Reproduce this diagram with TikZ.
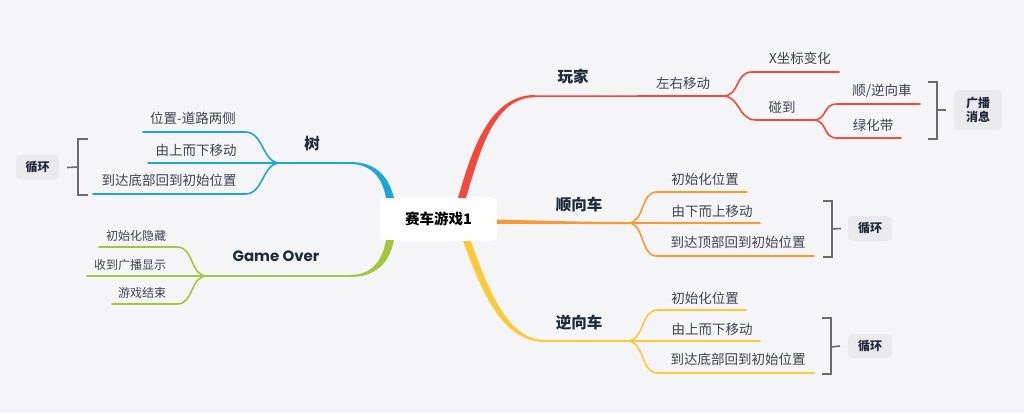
\documentclass[tikz,border=0pt]{standalone}
\usepackage{fontspec}
\setmainfont{Noto Sans CJK SC}
\newfontfamily\pop{Poppins}
\definecolor{bg}{HTML}{F5F5F8}
\definecolor{cred}{HTML}{F04A3E}
\definecolor{corange}{HTML}{F79A35}
\definecolor{cyellow}{HTML}{FCC93C}
\definecolor{cblue}{HTML}{1CA7D6}
\definecolor{cgreen}{HTML}{A4C63E}
\definecolor{maintext}{HTML}{1F2A3A}
\definecolor{subtext}{HTML}{3D4451}
\definecolor{callfill}{HTML}{EAEAED}
\definecolor{brk}{HTML}{6B6B6E}
\begin{document}
\begin{tikzpicture}[x=1pt,y=-1pt,
  central/.style={fill=white,rounded corners=6pt,minimum width=117pt,minimum height=44pt,inner sep=0pt,text=black,font=\fontsize{14.5}{17}\selectfont\bfseries},
  mainlbl/.style={inner sep=0pt,text=maintext,font=\fontsize{15.5}{18}\selectfont\bfseries},
  sublbl/.style={inner sep=0pt,text=subtext,font=\fontsize{13.5}{16}\selectfont},
  smalllbl/.style={inner sep=0pt,text=subtext,font=\fontsize{12}{14}\selectfont},
  callout/.style={fill=callfill,rounded corners=5pt,inner sep=0pt,text=maintext,font=\fontsize{12}{14}\selectfont\bfseries,align=center},
  subline/.style={line width=1.6pt,line cap=round},
  bracketline/.style={draw=brk,line width=1.6pt}
]
\fill[bg] (0,0) rectangle (1024,413);
\useasboundingbox (0,0) rectangle (1024,413);

% ---------- central
\node[central] (c) at (438.5,219) {赛车游戏1};

% ---------- main branches (tapered)
% red: 玩家
\fill[cred] (458,198) .. controls (472,149) and (490,95) .. (535,95) -- (535,97.2)
  .. controls (494,97.2) and (480,151) .. (466,198) -- cycle;
\coordinate (rf) at (723,96);
\draw[cred,subline] (535,96.1) -- (rf);
% orange: 顺向车
\fill[corange] (497,219.5) .. controls (540,220.5) and (580,222) .. (628,222) -- (628,224)
  .. controls (580,224) and (540,224) .. (497,223.8) -- cycle;
\coordinate (of) at (628,223);
% yellow: 逆向车
\fill[cyellow] (463,241) .. controls (481,289) and (501,342) .. (545,342) -- (545,340)
  .. controls (509,340) and (489,293) .. (471,241) -- cycle;
\coordinate (yf) at (627,341);
\draw[cyellow,subline] (545,341) -- (yf);
% blue: 树
\fill[cblue] (394,198) .. controls (388,174) and (374,162) .. (350,162) -- (350,164)
  .. controls (370,164) and (382,176) .. (386,198) -- cycle;
\coordinate (bf) at (280,163);
\draw[cblue,subline] (350,163) -- (bf);
% green: Game Over
\fill[cgreen] (394,240) .. controls (389,265) and (374,277) .. (350,277) -- (350,275)
  .. controls (370,275) and (382,263) .. (386,240) -- cycle;
\coordinate (gf) at (207,276);
\draw[cgreen,subline] (350,276) -- (gf);

% ---------- main labels
\node[mainlbl] (p) at (573,77) {玩家};
\node[mainlbl] (s) at (579,205) {顺向车};
\node[mainlbl] (n) at (579,323) {逆向车};
\node[mainlbl] (t) at (312,144) {树};
\node[mainlbl,font=\pop\fontsize{15}{18}\selectfont\bfseries] (g) at (276,256) {Game Over};

% ---------- red sub branches
\node[sublbl] (p1) at (683,83) {左右移动};
\node[sublbl] (p11) at (800,58) {X坐标变化};
\node[sublbl] (p12) at (782,107) {碰到};
\node[sublbl] (p121) at (882,91) {顺/逆向車};
\node[sublbl] (p122) at (873,125) {绿化带};
\coordinate (p11a) at (752,72); \coordinate (p11b) at (839,72);
\coordinate (p12a) at (756,120); \coordinate (p12b) at (813,120);
\coordinate (p121a) at (837,104); \coordinate (p121b) at (920,104);
\coordinate (p122a) at (837,138); \coordinate (p122b) at (901,138);
\draw[cred,subline] (rf) .. controls (740,96) and (735,72) .. (p11a) -- (p11b);
\draw[cred,subline] (rf) .. controls (740,96) and (738,120) .. (p12a) -- (p12b);
\draw[cred,subline] (p12b) .. controls (828,120) and (822,104) .. (p121a) -- (p121b);
\draw[cred,subline] (p12b) .. controls (828,120) and (822,138) .. (p122a) -- (p122b);
% bracket + callout
\node[callout,minimum width=48pt,minimum height=40pt] (cb1) at (978,110) {广播\\消息};
\draw[bracketline] (928,82) -- (937,82) -- (937,139) -- (928,139);
\draw[bracketline] (937,110) -- (cb1.west -| 946,110);

% ---------- orange sub branches
\node[sublbl] (s1) at (705,179) {初始化位置};
\node[sublbl] (s2) at (712,211) {由下而上移动};
\node[sublbl] (s3) at (738,242) {到达顶部回到初始位置};
\draw[corange,subline] (of) .. controls (645,223) and (640,192) .. (657,192) -- (747,192);
\draw[corange,subline] (of) -- (760,223);
\draw[corange,subline] (of) .. controls (645,223) and (640,256) .. (657,256) -- (814,256);
\node[callout,minimum width=44pt,minimum height=25pt] (cb2) at (870,228.5) {循环};
\draw[bracketline] (823,201) -- (832,201) -- (832,257) -- (823,257);
\draw[bracketline] (832,229) -- (cb2.west -| 841,229);

% ---------- yellow sub branches
\node[sublbl] (n1) at (705,298) {初始化位置};
\node[sublbl] (n2) at (712,329) {由上而下移动};
\node[sublbl] (n3) at (738,359) {到达底部回到初始位置};
\draw[cyellow,subline] (yf) .. controls (645,341) and (640,310) .. (658,310) -- (746,310);
\draw[cyellow,subline] (yf) -- (760,341);
\draw[cyellow,subline] (yf) .. controls (645,341) and (640,373) .. (658,373) -- (814,373);
\node[callout,minimum width=44pt,minimum height=24pt] (cb3) at (870,346) {循环};
\draw[bracketline] (822,318) -- (831,318) -- (831,374) -- (822,374);
\draw[bracketline] (831,347) -- (cb3.west -| 840,347);

% ---------- blue sub branches
\node[sublbl] (t1) at (193,118) {位置-道路两侧};
\node[sublbl] (t2) at (196,150) {由上而下移动};
\node[sublbl] (t3) at (169,180) {到达底部回到初始位置};
\draw[cblue,subline] (bf) .. controls (262,163) and (264,132) .. (245,132) -- (143,132);
\draw[cblue,subline] (bf) -- (148,163);
\draw[cblue,subline] (bf) .. controls (262,163) and (264,194) .. (245,194) -- (93,194);
\node[callout,minimum width=43pt,minimum height=25pt] (cb4) at (37.5,167.5) {循环};
\draw[bracketline] (88,139) -- (78,139) -- (78,195) -- (88,195);
\draw[bracketline] (78,167) -- (cb4.east -| 67,167);

% ---------- green sub branches
\node[smalllbl] (g1) at (136,236) {初始化隐藏};
\node[smalllbl] (g2) at (130,265) {收到广播显示};
\node[smalllbl] (g3) at (142,293) {游戏结束};
\draw[cgreen,subline] (gf) .. controls (190,276) and (194,247) .. (177,247) -- (99,247);
\draw[cgreen,subline] (gf) -- (87,276);
\draw[cgreen,subline] (gf) .. controls (190,276) and (194,304) .. (177,304) -- (112,304);
\end{tikzpicture}
\end{document}
